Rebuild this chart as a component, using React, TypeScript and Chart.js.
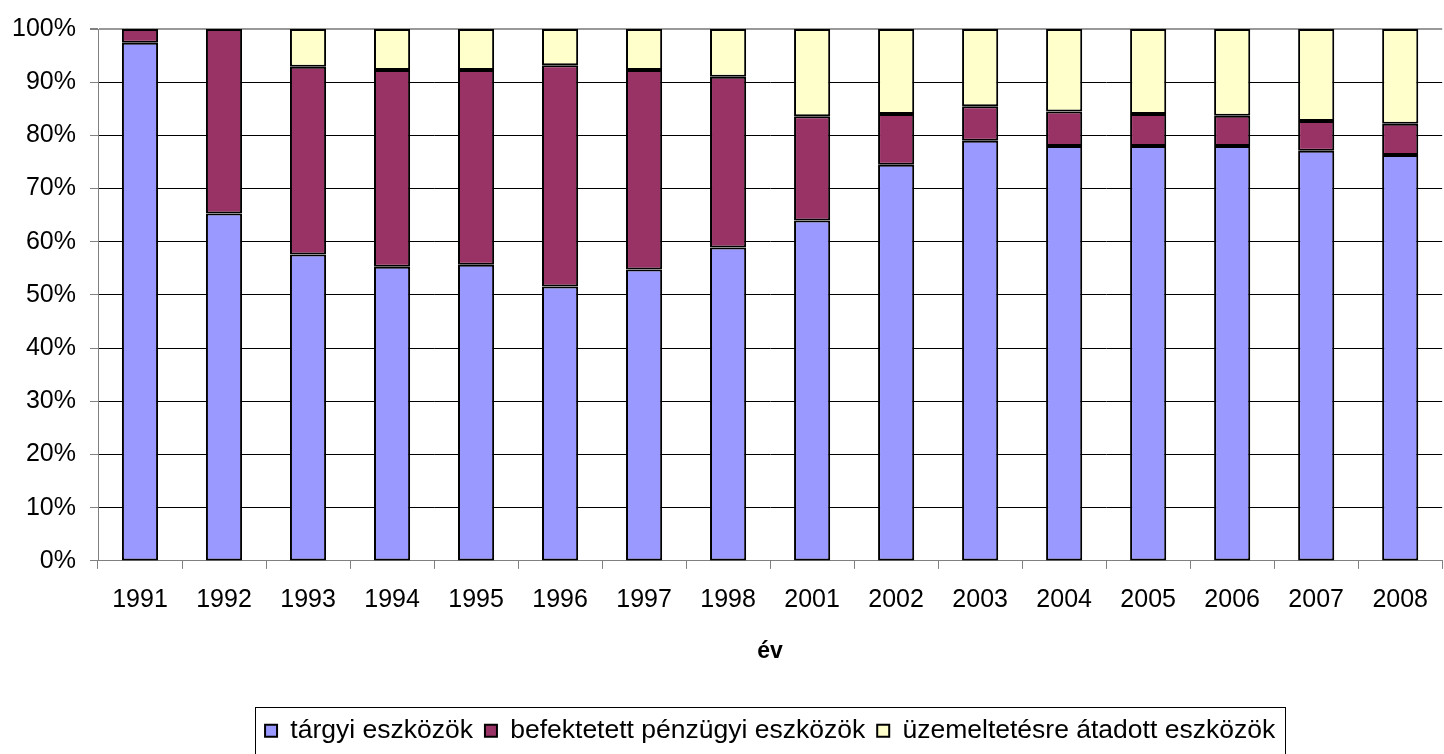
import React, { useEffect, useRef } from "react";
import { Chart, registerables } from "chart.js";

Chart.register(...registerables);

const years = ["1991", "1992", "1993", "1994", "1995", "1996", "1997", "1998", "2001", "2002", "2003", "2004", "2005", "2006", "2007", "2008"];
const targyi = [97.4, 65.3, 57.6, 55.3, 55.7, 51.6, 54.8, 58.9, 64.0, 74.5, 79.0, 78.0, 78.0, 78.0, 77.1, 76.3];
const befektetett = [2.6, 34.7, 35.3, 37.0, 36.6, 41.6, 37.5, 32.1, 19.6, 9.5, 6.5, 6.5, 6.0, 5.7, 5.6, 5.9];
const uzemeltetes = [0, 0, 7.1, 7.7, 7.7, 6.8, 7.7, 9.0, 16.4, 16.0, 14.5, 15.5, 16.0, 16.3, 17.3, 17.8];
const seriesNames = ["tárgyi eszközök", "befektetett pénzügyi eszközök", "üzemeltetésre átadott eszközök"];
const seriesColors = ["#9999FF", "#993366", "#FFFFCC"];
const xTitle = "év";

const FONT = "Arial, 'Liberation Sans', sans-serif";

const legendBorder = {
  id: "legendBorder",
  afterDraw(chart: any) {
    const lg = chart.legend;
    if (!lg || !lg.legendHitBoxes || !lg.legendHitBoxes.length) return;
    const hb = lg.legendHitBoxes;
    const left = hb[0].left - 10;
    const last = hb[hb.length - 1];
    const right = last.left + last.width + 10;
    const top = 707;
    const bottom = chart.height + 2;
    const ctx = chart.ctx;
    ctx.save();
    ctx.strokeStyle = "#000";
    ctx.lineWidth = 1;
    ctx.strokeRect(Math.round(left) + 0.5, top + 0.5, Math.round(right - left), bottom - top);
    ctx.restore();
  },
};

export default function App() {
  const ref = useRef<HTMLCanvasElement>(null);
  useEffect(() => {
    document.body.style.margin = "0";
    const ds = [targyi, befektetett, uzemeltetes].map((d, i) => ({
      label: seriesNames[i],
      data: d,
      backgroundColor: seriesColors[i],
      borderColor: "#000",
      borderWidth: 2,
      borderSkipped: false as any,
      barPercentage: 0.43,
      categoryPercentage: 1,
    }));
    const chart = new Chart(ref.current!, {
      type: "bar",
      data: { labels: years, datasets: ds },
      options: {
        animation: false,
        responsive: false,
        maintainAspectRatio: false,
        layout: { padding: { top: 25, right: 0, left: 0, bottom: 0 } },
        plugins: {
          tooltip: { enabled: false },
          legend: {
            position: "bottom",
            fullSize: false,
            labels: {
              color: "#000",
              font: { family: FONT, size: 26.5 },
              boxWidth: 12,
              boxHeight: 12,
              padding: 12,
            },
          },
        },
        scales: {
          x: {
            stacked: true,
            grid: { display: true, drawOnChartArea: false, drawTicks: true, tickLength: 8, color: "#808080", offset: true },
            border: { display: true, color: "#808080", width: 1 },
            ticks: { color: "#000", font: { family: FONT, size: 25 }, padding: 16, maxRotation: 0 },
            title: {
              display: true,
              text: xTitle,
              color: "#000",
              font: { family: FONT, size: 23, weight: "bold" },
              padding: { top: 7, bottom: 40 },
            },
          },
          y: {
            stacked: true,
            min: 0,
            max: 100,
            afterFit: (s: any) => { s.width = 98; },
            grid: { color: (c: any) => (c.tick && c.tick.value === 100 ? "#999" : "#000"), lineWidth: (c: any) => (c.tick && c.tick.value === 100 ? 2 : 1), tickLength: 8, tickColor: "#808080" },
            border: { display: true, color: "#808080", width: 1 },
            ticks: {
              stepSize: 10,
              color: "#000",
              padding: 14,
              font: { family: FONT, size: 25 },
              callback: (v: any) => v + "%",
            },
          },
        },
      },
      plugins: [legendBorder],
    });
    return () => chart.destroy();
  }, []);
  return (
    <div style={{ width: 1444, height: 754 }}>
      <canvas ref={ref} width={1444} height={754} style={{ display: "block" }} />
    </div>
  );
}
